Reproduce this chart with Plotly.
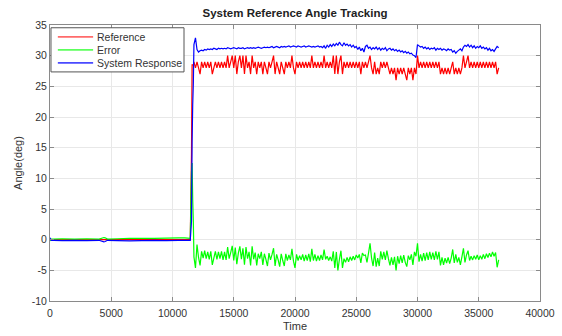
import plotly.graph_objects as go

# ---- samples before and during the step (irregular time stamps) ----
pre_time = [0, 100, 300, 1000, 2000, 3000, 4000, 4400, 4500, 4700, 5500, 6500,
            7500, 8500, 9500, 10500, 11000, 11450, 11550, 11600, 11650, 11700]
ref_pre = [0, 0, 0, 0, 0, 0, 0, 0, 0, 0, 0, 0,
           0, 0, 0, 0, 0, 0, 14, 28.5, 28.5, 28.5]
err_pre = [-0.2, 0.1, 0.1, 0.15, 0.1, 0.15, 0.1, 0.35, 0.3, 0.1, 0.15, 0.2,
           0.2, 0.2, 0.25, 0.3, 0.3, 0.2, 11, 12.5, 6.5, 3]
resp_pre = [0.3, -0.1, -0.1, -0.15, -0.1, -0.15, -0.1, -0.35, -0.3, -0.1, -0.15, -0.2,
            -0.15, -0.1, -0.15, -0.1, -0.1, -0.1, 3, 16, 22, 25.5]

# ---- tracking phase, one sample every 125 time units from 11750 ----
post_start = 11750
post_step = 125
ref_post = [
    29, 28, 29, 28, 27, 29, 28, 29, 28, 29, 28, 29, 27, 28, 29, 28, 29, 28, 29, 28,
    29, 28, 30, 28, 29, 30, 28, 30, 27, 29, 30, 28, 30, 27, 30, 28, 29, 27, 30, 28,
    29, 27, 29, 28, 29, 27, 29, 28, 27, 29, 28, 29, 30, 27, 29, 28, 27, 29, 28, 27,
    29, 28, 29, 28, 30, 28, 27, 29, 28, 29, 28, 29, 28, 29, 28, 29, 28, 30, 28, 29,
    28, 29, 28, 29, 28, 30, 28, 29, 28, 29, 28, 30, 27, 30, 27, 29, 30, 27, 29, 28,
    29, 28, 29, 28, 29, 28, 29, 28, 29, 27, 29, 28, 29, 28, 29, 30, 28, 27, 29, 27,
    28, 27, 29, 28, 29, 28, 29, 28, 27, 28, 27, 28, 26, 28, 27, 28, 27, 28, 27, 26,
    28, 27, 28, 26, 28, 27, 30, 28, 29, 28, 29, 28, 29, 28, 29, 28, 29, 28, 29, 28,
    29, 27, 28, 27, 28, 27, 28, 27, 28, 29, 27, 28, 27, 28, 27, 28, 30, 28, 29, 30,
    28, 29, 28, 29, 28, 29, 28, 29, 28, 29, 28, 29, 28, 29, 28, 29, 28, 29, 27, 28,
]
err_post = [
    -2.8, -4.6, -0.8, -2.9, -4.2, -1.9, -3.0, -1.8, -3.1, -2.0, -3.2, -1.9, -4.1, -3.0, -1.9, -3.2, -2.0, -3.1, -1.9, -3.3,
    -2.0, -3.3, -1.2, -3.1, -2.1, -1.0, -3.4, -1.3, -4.0, -2.2, -1.1, -3.2, -1.4, -4.1, -1.2, -3.1, -2.0, -4.2, -1.1, -3.2,
    -2.1, -4.2, -2.3, -3.1, -2.0, -4.1, -2.3, -3.2, -4.3, -2.2, -3.3, -2.4, -1.4, -4.3, -2.4, -3.3, -4.4, -2.3, -3.4, -4.3,
    -2.3, -3.4, -2.5, -3.3, -1.5, -3.5, -4.6, -2.4, -3.4, -2.6, -3.3, -2.4, -3.5, -2.5, -3.4, -2.3, -3.6, -1.5, -3.4, -2.4,
    -3.5, -2.6, -3.4, -2.5, -3.3, -1.6, -3.2, -2.7, -3.4, -2.8, -3.5, -1.9, -4.6, -2.0, -5.0, -3.2, -1.8, -4.6, -3.1, -3.7,
    -2.9, -3.6, -2.8, -3.4, -2.7, -3.3, -2.5, -3.0, -2.4, -3.8, -2.2, -2.6, -2.5, -3.7, -2.2, -0.6, -3.0, -4.3, -2.1, -4.4,
    -3.0, -4.3, -1.9, -3.2, -2.0, -3.3, -1.8, -3.1, -4.2, -2.9, -4.1, -2.8, -5.0, -2.7, -3.9, -2.6, -3.8, -2.5, -3.7, -4.4,
    -2.6, -3.3, -2.4, -4.1, -2.0, -2.7, -0.6, -3.6, -2.4, -3.5, -2.2, -3.4, -2.1, -3.3, -2.0, -3.2, -2.1, -3.3, -1.9, -3.2,
    -2.0, -4.2, -2.9, -4.1, -3.0, -3.8, -2.9, -3.9, -3.0, -1.6, -3.8, -2.4, -3.7, -2.9, -4.1, -2.8, -1.4, -3.7, -2.5, -1.8,
    -3.4, -2.7, -3.3, -2.6, -3.2, -2.5, -3.3, -2.6, -3.2, -2.4, -3.1, -2.3, -2.9, -2.2, -2.8, -2.0, -2.7, -2.1, -4.5, -3.3,
]
resp_post = [
    31.8, 32.9, 31.0, 30.6, 30.8, 30.9, 30.8, 31.0, 30.9, 31.1, 31.0, 31.1, 31.0, 31.2, 31.1, 31.0, 31.2, 31.1, 31.2, 31.1,
    31.2, 31.1, 31.3, 31.2, 31.1, 31.2, 31.3, 31.2, 31.1, 31.3, 31.2, 31.2, 31.3, 31.1, 31.2, 31.3, 31.2, 31.3, 31.2, 31.3,
    31.2, 31.3, 31.4, 31.3, 31.2, 31.3, 31.4, 31.3, 31.4, 31.3, 31.4, 31.5, 31.3, 31.4, 31.5, 31.4, 31.3, 31.5, 31.4, 31.5,
    31.4, 31.5, 31.6, 31.4, 31.5, 31.6, 31.5, 31.4, 31.6, 31.5, 31.4, 31.5, 31.6, 31.4, 31.5, 31.6, 31.5, 31.4, 31.5, 31.4,
    31.5, 31.6, 31.4, 31.5, 31.3, 31.6, 31.2, 31.7, 31.4, 31.8, 31.5, 31.9, 31.6, 32.0, 31.7, 32.2, 31.8, 31.6, 32.1, 31.7,
    31.9, 31.6, 31.8, 31.4, 31.7, 31.3, 31.5, 31.0, 31.4, 30.8, 31.2, 30.6, 31.5, 31.7, 31.2, 31.4, 31.0, 31.3, 31.1, 31.4,
    31.0, 31.3, 30.9, 31.2, 31.0, 31.3, 30.8, 31.1, 31.2, 30.9, 31.1, 30.8, 31.0, 30.7, 30.9, 30.6, 30.8, 30.5, 30.7, 30.4,
    30.6, 30.3, 30.4, 30.1, 30.0, 29.7, 31.8, 31.6, 31.4, 31.5, 31.2, 31.4, 31.1, 31.3, 31.0, 31.2, 31.1, 31.3, 30.9, 31.2,
    31.0, 31.2, 30.9, 31.1, 31.0, 30.8, 31.1, 30.9, 31.0, 30.6, 30.8, 30.4, 30.7, 30.9, 31.1, 30.8, 31.4, 31.7, 31.5, 31.8,
    31.4, 31.7, 31.3, 31.6, 31.2, 31.5, 31.3, 31.6, 31.2, 31.4, 31.1, 31.3, 30.9, 31.2, 30.8, 31.0, 30.7, 31.1, 31.5, 31.3,
]

x_ticks = [0, 5000, 10000, 15000, 20000, 25000, 30000, 35000, 40000]
x_tick_text = ["0", "5000", "10000", "15000", "20000", "25000", "30000", "35000", "40000"]
y_ticks = [-10, -5, 0, 5, 10, 15, 20, 25, 30, 35]
y_tick_text = ["-10", "-5", "0", "5", "10", "15", "20", "25", "30", "35"]

series_names = ["Reference", "Error", "System Response"]
series_colors = ["#ff0000", "#00ff00", "#0000ff"]

post_time = [post_start + post_step * k for k in range(len(ref_post))]
time = pre_time + post_time
series_values = [ref_pre + ref_post, err_pre + err_post, resp_pre + resp_post]

FONT = "Liberation Sans, Arial, sans-serif"
AXIS_GRAY = "#8a8a8a"
TEXT_GRAY = "#333333"

fig = go.Figure()
for name, color, values in zip(series_names, series_colors, series_values):
    fig.add_trace(go.Scatter(
        x=time, y=values, mode="lines", name=name,
        line=dict(color=color, width=1.2, simplify=False), showlegend=False,
    ))

# Boxed legend in the upper-left corner of the axes
leg_rows = [0.957, 0.910, 0.863]
leg_colors = ["#ff6b6b", "#5cff5c", "#4a4aff"]
fig.add_shape(type="rect", xref="paper", yref="paper",
              x0=0.002, x1=0.2735, y0=0.83, y1=0.99,
              line=dict(color="#555555", width=1), fillcolor="white", layer="above")
for name, color, yy in zip(series_names, leg_colors, leg_rows):
    fig.add_shape(type="line", xref="paper", yref="paper",
                  x0=0.016, x1=0.088, y0=yy, y1=yy,
                  line=dict(color=color, width=1.8), layer="above")
    fig.add_annotation(text=name, xref="paper", yref="paper", x=0.092, y=yy,
                       xanchor="left", yanchor="middle", showarrow=False,
                       font=dict(family=FONT, size=10.5, color=TEXT_GRAY))

axis_common = dict(
    automargin=False,
    showline=True, linecolor=AXIS_GRAY, linewidth=1, mirror="ticks",
    ticks="inside", ticklen=4, tickcolor=AXIS_GRAY,
    showgrid=True, gridcolor="#e8e8e8", gridwidth=1, zeroline=False,
    tickfont=dict(family=FONT, size=10.5, color=TEXT_GRAY),
)
fig.update_xaxes(range=[0, 40000], tickvals=x_ticks, ticktext=x_tick_text,
                 ticklabelstandoff=2,
                 title=dict(text="Time", standoff=4,
                            font=dict(family=FONT, size=11, color=TEXT_GRAY)),
                 **axis_common)
fig.update_yaxes(range=[-10, 35], tickvals=y_ticks, ticktext=y_tick_text,
                 title=dict(text="Angle(deg)", standoff=6,
                            font=dict(family=FONT, size=11, color=TEXT_GRAY)),
                 **axis_common)

fig.update_layout(
    width=562, height=336,
    margin=dict(l=50, r=22, t=25, b=35),
    paper_bgcolor="white", plot_bgcolor="white",
    title=dict(text="<b>System Reference Angle Tracking</b>", x=0.5, xref="paper",
               xanchor="center", y=1, yref="paper", yanchor="bottom",
               pad=dict(b=8), font=dict(family=FONT, size=11.5, color="#222222")),
)

fig.write_html("out.html")
